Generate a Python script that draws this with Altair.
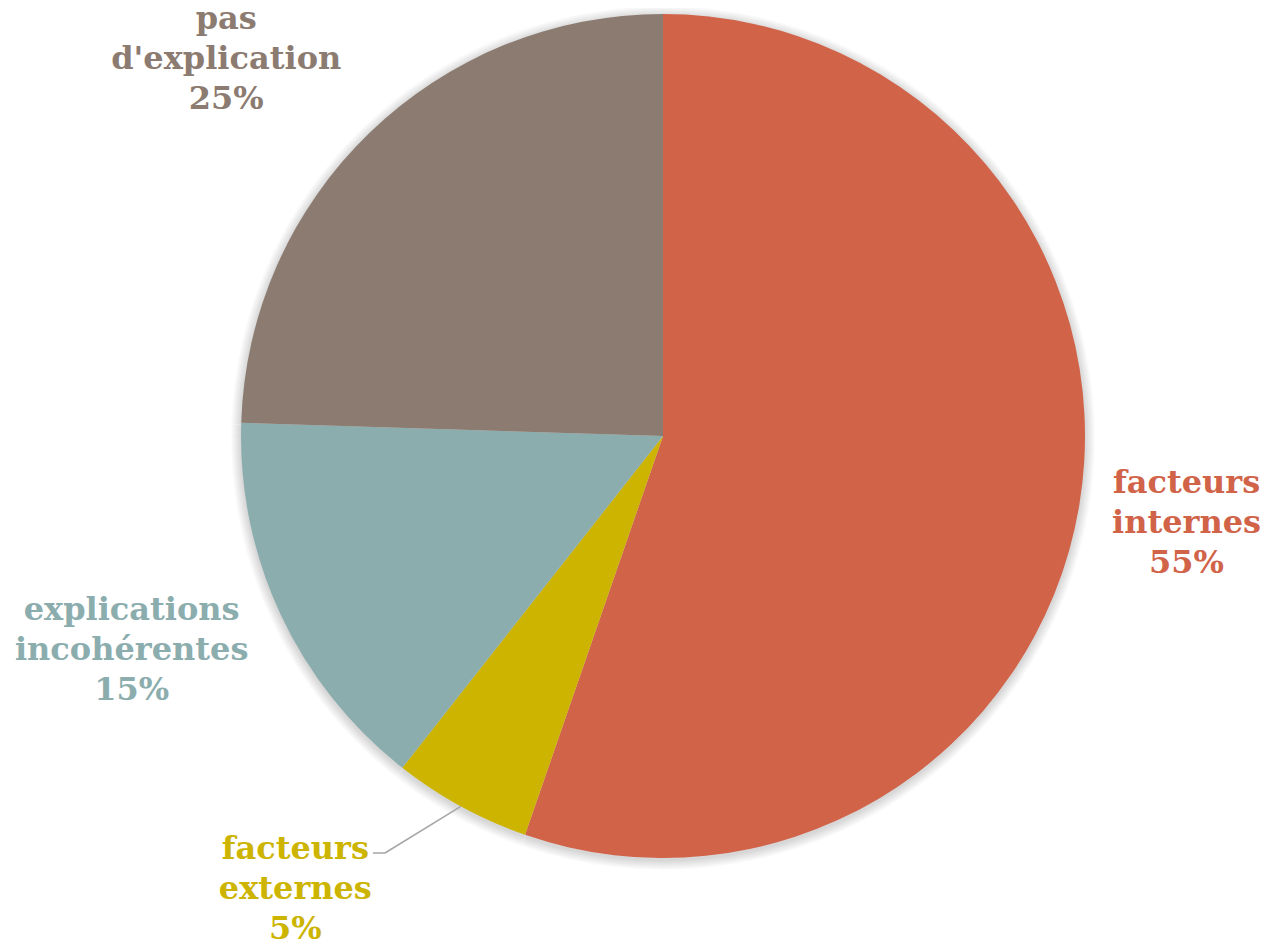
import math
import altair as alt
import pandas as pd

categories = ["facteurs internes", "facteurs externes", "explications incohérentes", "pas d'explication"]
labels = ["facteurs\ninternes", "facteurs\nexternes", "explications\nincohérentes", "pas\nd'explication"]
pct_labels = ["55%", "5%", "15%", "25%"]
values = [55.3, 5.3, 14.9, 24.5]
colors = ["#D16349", "#CCB400", "#8CADAE", "#8C7B70"]

df = pd.DataFrame({
    "cat": categories,
    "label": [f"{l}\n{p}" for l, p in zip(labels, pct_labels)],
    "value": values,
    "idx": list(range(len(values))),
})

# layout constants
W, H = 1100, 856
PL, PT, PR, PB = 105, 0, 47, 75
CX, CY = W / 2, H / 2
R = 422
FONT = "DejaVu Serif"

color_scale = alt.Scale(domain=categories, range=colors)
base = alt.Chart(df)

theta = alt.Theta("value:Q", stack=True)
order = alt.Order("idx:Q")

# soft shadow
shadows = []
for k in range(1, 11):
    shadows.append(
        base.mark_arc(radius=R + k, color="#000000", opacity=0.016)
        .encode(theta=theta, order=order, x=alt.value(CX), y=alt.value(CY + 2))
    )

pie = base.mark_arc(radius=R).encode(
    theta=theta,
    order=order,
    color=alt.Color("cat:N", scale=color_scale, legend=None),
    x=alt.value(CX),
    y=alt.value(CY),
)

label_style = {
    "facteurs internes": dict(radius=540, dx=-9, dy=-42),
    "facteurs externes": dict(radius=540, dx=-109, dy=-61),
    "explications incohérentes": dict(radius=540, dx=-42, dy=-54),
    "pas d'explication": dict(radius=540, dx=-61, dy=-29),
}

texts = []
for cat in categories:
    st = label_style[cat]
    texts.append(
        base.mark_text(
            font=FONT, fontSize=32, fontWeight="bold", lineBreak="\n", lineHeight=40,
            align="center", baseline="middle", **st
        ).encode(
            theta=theta,
            order=order,
            x=alt.value(CX),
            y=alt.value(CY),
            text=alt.condition(alt.datum.cat == cat, alt.Text("label:N"), alt.value("")),
            color=alt.Color("cat:N", scale=color_scale, legend=None),
        )
    )

# leader line for "facteurs externes"
cum = sum(values[:1])
mid = (cum + values[1] / 2) / sum(values) * 2 * math.pi
sx, sy = CX + R * math.sin(mid), CY - R * math.cos(mid)
ex, ey = CX - 278, CY + 417
leader = alt.Chart(pd.DataFrame({"a": [0]})).mark_rule(color="#A6A6A6", strokeWidth=1.5).encode(
    x=alt.value(sx), y=alt.value(sy), x2=alt.value(ex), y2=alt.value(ey)
)
leader2 = alt.Chart(pd.DataFrame({"a": [0]})).mark_rule(color="#A6A6A6", strokeWidth=1.5).encode(
    x=alt.value(ex), y=alt.value(ey), x2=alt.value(ex - 12), y2=alt.value(ey)
)

chart = alt.layer(*shadows, pie, leader, leader2, *texts).properties(
    width=W, height=H,
    padding={"left": PL, "top": PT, "right": PR, "bottom": PB},
    autosize=alt.AutoSizeParams(type="none"),
).configure_view(stroke=None)

chart.save("out.html", embed_options={"renderer": "svg", "actions": False})
